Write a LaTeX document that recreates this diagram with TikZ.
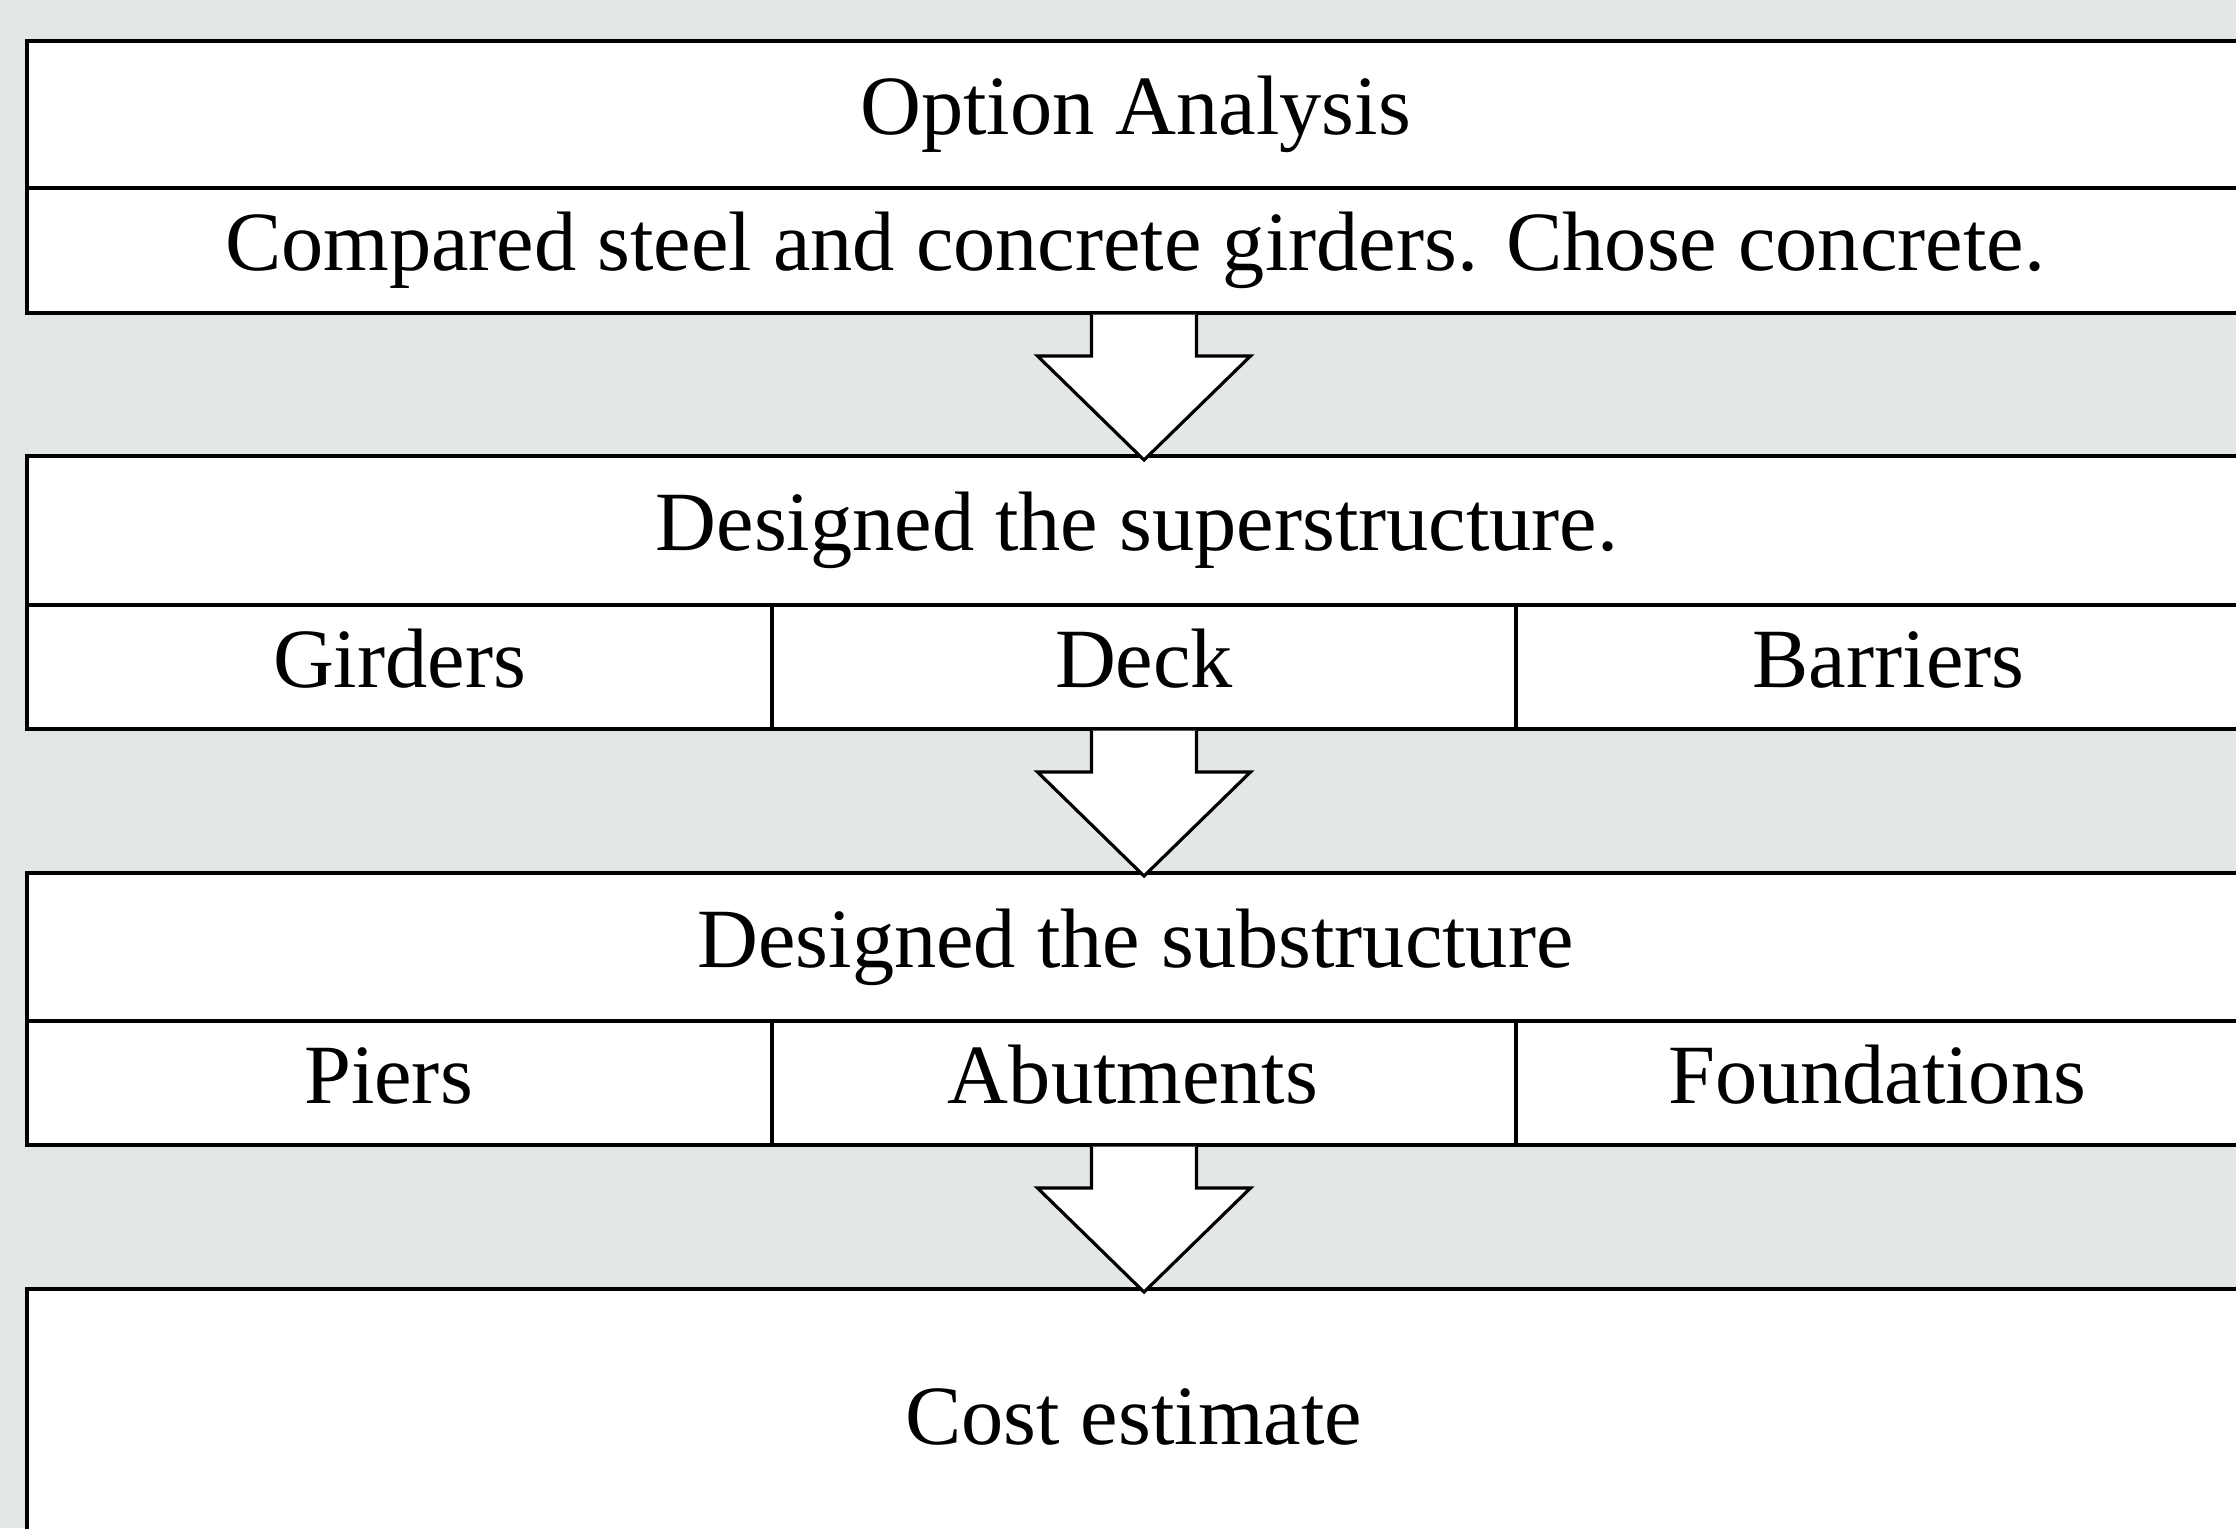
\documentclass[tikz,border=0pt]{standalone}
\usepackage{fontspec}
\setmainfont{Liberation Serif}
\usetikzlibrary{calc}
\definecolor{bgc}{HTML}{E3E7E8}
\tikzset{
 cell/.style={draw=black, fill=white, line width=0.9pt, inner sep=0pt, outer sep=0pt, anchor=north west, font=\fontsize{24}{28}\selectfont, text height=5.9mm, text depth=1.85mm},
 blockarr/.style={draw=black, fill=white, line width=0.9pt, line join=miter},
}
% text shifted left by #1 inside its box
\newcommand\lft[2]{#2\hspace*{#1}}
\newcommand\blockarrow[1]{%
 \path[blockarr] ($(#1)+(-5.25,0.16)$) -- ($(#1)+(-5.25,4.3)$) -- ($(#1)+(-10.65,4.3)$) -- ($(#1)+(0,14.7)$) -- ($(#1)+(10.65,4.3)$) -- ($(#1)+(5.25,4.3)$) -- ($(#1)+(5.25,0.16)$);}
\begin{document}
\begin{tikzpicture}[x=1mm,y=-1mm]
\fill[bgc] (0,0) rectangle (223.6,152.8);
\useasboundingbox (0,0) rectangle (223.6,152.8);
\clip (0,0) rectangle (223.6,152.8);
% box 1
\node[cell, minimum width=223.4mm, minimum height=14.7mm] (opt) at (2.7,4.1) {\lft{1.7mm}{Option Analysis}};
\node[cell, minimum width=223.4mm, minimum height=12.5mm] (cmp) at (2.7,18.8) {\lft{1.8mm}{Compared steel and concrete girders. Chose concrete.}};
% box 2
\node[cell, minimum width=223.4mm, minimum height=14.9mm] (sup) at (2.7,45.6) {\lft{1.4mm}{Designed the superstructure.}};
\node[cell, minimum width=74.5mm, minimum height=12.4mm] (gird) at (2.7,60.5) {Girders};
\node[cell, minimum width=74.4mm, minimum height=12.4mm] (deck) at (77.2,60.5) {Deck};
\node[cell, minimum width=74.5mm, minimum height=12.4mm] (barr) at (151.6,60.5) {Barriers};
% box 3
\node[cell, minimum width=223.4mm, minimum height=14.8mm] (sub) at (2.7,87.3) {\lft{1.7mm}{Designed the substructure}};
\node[cell, minimum width=74.5mm, minimum height=12.4mm] (pier) at (2.7,102.1) {\lft{2.2mm}{Piers}};
\node[cell, minimum width=74.4mm, minimum height=12.4mm] (abut) at (77.2,102.1) {\lft{2.2mm}{Abutments}};
\node[cell, minimum width=74.5mm, minimum height=12.4mm] (found) at (151.6,102.1) {\lft{2.2mm}{Foundations}};
% box 4
\node[cell, minimum width=223.4mm, minimum height=27mm] (cost) at (2.7,128.9) {\lft{2.1mm}{Cost estimate}};
% arrows
\blockarrow{cmp.south}
\blockarrow{deck.south}
\blockarrow{abut.south}
\end{tikzpicture}
\end{document}
